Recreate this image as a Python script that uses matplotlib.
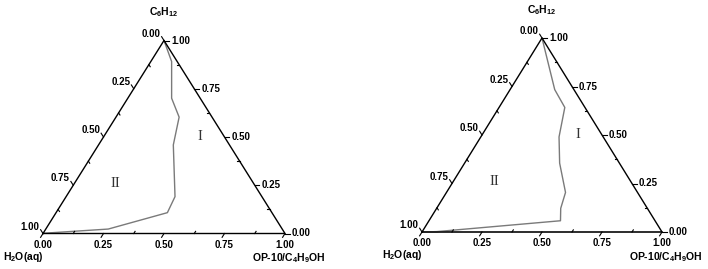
import numpy as np
import matplotlib
matplotlib.use('Agg')
import matplotlib.pyplot as plt

plt.rcParams['font.family'] = ['Liberation Sans', 'DejaVu Sans']
plt.rcParams['mathtext.fontset'] = 'custom'
plt.rcParams['mathtext.rm'] = 'Liberation Sans:bold'
plt.rcParams['mathtext.default'] = 'regular'

# binodal curves, (OP-10/C4H9OH fraction, C6H12 fraction)
left_op = [0.0, 0.086, 0.181, 0.261, 0.309, 0.450, 0.460, 0.258, 0.010, 0.0]
left_c6 = [1.0, 0.891, 0.701, 0.603, 0.459, 0.191, 0.108, 0.023, 0.002, 0.0]
right_op = [0.0, 0.186, 0.274, 0.326, 0.396, 0.496, 0.517, 0.548, 0.060, 0.0, 1.0]
right_c6 = [1.0, 0.734, 0.642, 0.490, 0.355, 0.204, 0.122, 0.058, 0.002, 0.0, 0.0]

major = [0.0, 0.25, 0.5, 0.75, 1.0]
minor = [0.125, 0.375, 0.625, 0.875]

# region labels (OP fraction, C6H12 fraction)
region_two = (0.17, 0.26)
region_one = (0.40, 0.50)


def draw_panel(fig, x0, y0, W, H, op, c6):
    ax = fig.add_axes([x0 / 708, (269 - y0) / 269, W / 708, H / 269])
    ax.set_xlim(0, W)
    ax.set_ylim(0, H)
    ax.axis('off')

    def xy(b, c):
        return W * (b + c / 2), H * c

    # triangle
    tx, ty = zip(*[xy(0, 0), xy(1, 0), xy(0, 1), xy(0, 0)])
    ax.plot(tx, ty, color='black', lw=1.0, clip_on=False, zorder=3)

    # curve
    cx, cy = xy(np.array(op), np.array(c6))
    ax.plot(cx, cy, color='#7a7a7a', lw=1.0, clip_on=False, zorder=2)

    dl = np.array([W / 2, H]) / np.hypot(W / 2, H)
    dr = np.array([-W / 2, H]) / np.hypot(W / 2, H)
    tk = dict(color='black', lw=0.8, clip_on=False)
    fs = dict(fontsize=7, fontweight='bold', color='black')

    for v in major + minor:
        is_major = v in major
        L = 4.5 if is_major else 2.5
        sgn = 1 if is_major else -1
        # bottom axis
        p = np.array(xy(v, 0))
        q = p - sgn * L * dl
        ax.plot([p[0], q[0]], [p[1], q[1]], **tk)
        if is_major:
            ax.text(p[0], -6, f'{v:.2f}', ha='center', va='top', **fs)
        # left axis (H2O fraction)
        p = np.array(xy(0, 1 - v))
        q = p + sgn * L * dr
        ax.plot([p[0], q[0]], [p[1], q[1]], **tk)
        if is_major:
            ax.text(q[0] - 1, q[1] + 3, f'{v:.2f}', ha='right', va='center', **fs)
        # right axis (C6H12 fraction)
        p = np.array(xy(1 - v, v))
        q = p + sgn * L * np.array([1, 0])
        ax.plot([p[0], q[0]], [p[1], q[1]], **tk)
        if is_major:
            ax.text(p[0] + 7, p[1], f'{v:.2f}', ha='left', va='center', **fs)

    ax.text(W / 2, H + 28, r'C$_6$H$_{12}$', ha='center', va='center',
            fontsize=7.5, fontweight='bold')
    ax.text(-40, -23, r'H$_2$O(aq)', ha='left', va='center',
            fontsize=7.5, fontweight='bold')
    ax.text(W + 41, -25, r'OP-10/C$_4$H$_9$OH', ha='right', va='center',
            fontsize=7.5, fontweight='bold')

    px, py = xy(*region_two)
    ax.text(px, py, 'II', ha='center', va='center', family='Liberation Serif',
            fontsize=10.5, color='#333333')
    px, py = xy(*region_one)
    ax.text(px, py, 'I', ha='center', va='center', family='Liberation Serif',
            fontsize=10.5, color='#333333')


fig = plt.figure(figsize=(7.08, 2.69), dpi=100)
draw_panel(fig, 43, 233.5, 242, 193, left_op, left_c6)
draw_panel(fig, 422, 232, 240, 194, right_op, right_c6)
fig.savefig('out.png', dpi=100, facecolor='white')
